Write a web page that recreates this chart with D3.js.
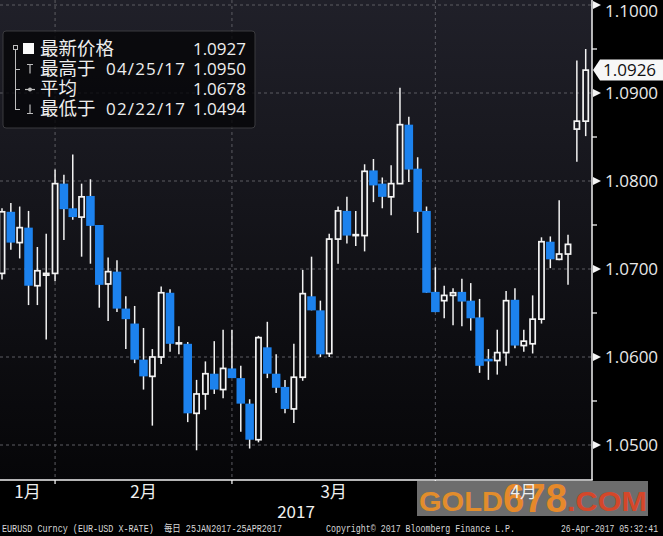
<!DOCTYPE html>
<html><head><meta charset="utf-8">
<script src="https://cdn.jsdelivr.net/npm/d3@7"></script>
<style>html,body{margin:0;padding:0;background:#000;overflow:hidden}svg{display:block}</style>
</head><body>
<svg id="c" width="663" height="536"></svg>
<script>
// ---- data ----
const dates = [
 "2017-01-23","2017-01-24","2017-01-25","2017-01-26","2017-01-27","2017-01-30","2017-01-31",
 "2017-02-01","2017-02-02","2017-02-03","2017-02-06","2017-02-07","2017-02-08","2017-02-09","2017-02-10",
 "2017-02-13","2017-02-14","2017-02-15","2017-02-16","2017-02-17","2017-02-20","2017-02-21","2017-02-22",
 "2017-02-23","2017-02-24","2017-02-27","2017-02-28",
 "2017-03-01","2017-03-02","2017-03-03","2017-03-06","2017-03-07","2017-03-08","2017-03-09","2017-03-10",
 "2017-03-13","2017-03-14","2017-03-15","2017-03-16","2017-03-17","2017-03-20","2017-03-21","2017-03-22",
 "2017-03-23","2017-03-24","2017-03-27","2017-03-28","2017-03-29","2017-03-30","2017-03-31",
 "2017-04-03","2017-04-04","2017-04-05","2017-04-06","2017-04-07","2017-04-10","2017-04-11","2017-04-12",
 "2017-04-13","2017-04-14","2017-04-17","2017-04-18","2017-04-19","2017-04-20","2017-04-21","2017-04-24","2017-04-25"];
const openP = [
 1.0695,1.0765,1.0730,1.0747,1.0681,1.0693,1.0695,
 1.0797,1.0769,1.0759,1.0783,1.0750,1.0683,1.0697,1.0655,
 1.0638,1.0597,1.0578,1.0600,1.0673,1.0615,1.0615,1.0536,
 1.0558,1.0581,1.0563,1.0587,
 1.0576,1.0547,1.0506,1.0611,1.0581,1.0566,1.0541,1.0577,
 1.0669,1.0653,1.0604,1.0734,1.0766,1.0738,1.0738,1.0812,
 1.0797,1.0782,1.0797,1.0864,1.0814,1.0766,1.0674,
 1.0664,1.0670,1.0674,1.0664,1.0645,1.0598,1.0596,1.0605,
 1.0665,1.0613,1.0615,1.0643,1.0731,1.0711,1.0717,1.0859,1.0868];
const highP = [
 1.0769,1.0775,1.0771,1.0766,1.0725,1.0740,1.0813,
 1.0807,1.0830,1.0797,1.0802,1.0750,1.0713,1.0710,1.0669,
 1.0658,1.0633,1.0609,1.0680,1.0677,1.0635,1.0617,1.0574,
 1.0595,1.0618,1.0631,1.0631,
 1.0590,1.0552,1.0624,1.0640,1.0603,1.0574,1.0615,1.0699,
 1.0714,1.0664,1.0740,1.0771,1.0782,1.0766,1.0819,1.0825,
 1.0804,1.0818,1.0906,1.0873,1.0827,1.0771,1.0702,
 1.0681,1.0678,1.0689,1.0684,1.0666,1.0609,1.0631,1.0675,
 1.0678,1.0631,1.0670,1.0736,1.0737,1.0778,1.0739,1.0937,1.0950];
const lowP = [
 1.0688,1.0722,1.0712,1.0659,1.0659,1.0620,1.0686,
 1.0733,1.0756,1.0714,1.0706,1.0656,1.0641,1.0651,1.0609,
 1.0593,1.0563,1.0522,1.0592,1.0606,1.0603,1.0526,1.0494,
 1.0540,1.0558,1.0553,1.0576,
 1.0515,1.0496,1.0503,1.0576,1.0559,1.0536,1.0525,1.0573,
 1.0653,1.0600,1.0600,1.0706,1.0729,1.0726,1.0720,1.0776,
 1.0769,1.0761,1.0797,1.0799,1.0741,1.0673,1.0651,
 1.0644,1.0636,1.0635,1.0630,1.0582,1.0574,1.0580,1.0590,
 1.0610,1.0606,1.0604,1.0638,1.0701,1.0710,1.0682,1.0822,1.0851];
const closeP = [
 1.0765,1.0730,1.0747,1.0681,1.0698,1.0695,1.0797,
 1.0768,1.0759,1.0782,1.0749,1.0682,1.0697,1.0655,1.0643,
 1.0597,1.0578,1.0600,1.0673,1.0615,1.0616,1.0536,1.0558,
 1.0581,1.0563,1.0587,1.0576,
 1.0547,1.0506,1.0622,1.0581,1.0565,1.0541,1.0577,1.0672,
 1.0653,1.0603,1.0734,1.0766,1.0738,1.0739,1.0811,1.0795,
 1.0782,1.0797,1.0864,1.0813,1.0765,1.0673,1.0651,
 1.0670,1.0673,1.0663,1.0644,1.0590,1.0595,1.0605,1.0664,
 1.0613,1.0618,1.0643,1.0731,1.0711,1.0717,1.0728,1.0868,1.0926];

const yTicks = [1.05, 1.06, 1.07, 1.08, 1.09, 1.10];
const monthLabels = ["1月", "2月", "3月", "4月"];
const yearLabel = "2017";
const legendLabels = ["最新价格", "最高于", "平均", "最低于"];
const legendDates = ["", "04/25/17", "", "02/22/17"];
const legendValues = [1.0927, 1.0950, 1.0678, 1.0494];
const lastPrice = 1.0926;
const footerLeft = "EURUSD Curncy (EUR-USD X-RATE)  每日 25JAN2017-25APR2017";
const footerMid = "Copyright© 2017 Bloomberg Finance L.P.";
const footerRight = "26-Apr-2017 05:32:41";

// ---- layout ----
const W = 663, H = 536;
const plotR = 592, plotB = 480;
const svg = d3.select("#c");
const fmt = d3.format(".4f");
const candles = dates.map((d, i) => ({d, o: openP[i], h: highP[i], l: lowP[i], c: closeP[i]}));

const x = d3.scalePoint().domain(dates).range([2, 585.7]);
const step = x.step();
const y = d3.scaleLinear().domain([1.05, 1.10]).range([445, 5]);

const defs = svg.append("defs");
const grad = defs.append("linearGradient").attr("id", "bg")
  .attr("gradientUnits", "userSpaceOnUse").attr("x1", 0).attr("y1", 0).attr("x2", 0).attr("y2", plotB);
grad.append("stop").attr("offset", "0%").attr("stop-color", "#202029");
grad.append("stop").attr("offset", "100%").attr("stop-color", "#060608");
defs.append("clipPath").attr("id", "plotclip").append("rect")
  .attr("x", 0).attr("y", 0).attr("width", plotR).attr("height", plotB);

svg.append("rect").attr("width", W).attr("height", H).attr("fill", "#000");
svg.append("rect").attr("x", 0).attr("y", 0).attr("width", plotR).attr("height", plotB).attr("fill", "url(#bg)");

const plot = svg.append("g").attr("clip-path", "url(#plotclip)");

// month ends (last trading day of each month)
const monthOf = d => +d.slice(5, 7);
const monthEnds = [];
dates.forEach((d, i) => {
  if (i < dates.length - 1 && monthOf(dates[i + 1]) !== monthOf(d)) monthEnds.push(d);
});

// gridlines
plot.selectAll(".hg").data(yTicks).join("line")
  .attr("x1", 0).attr("x2", plotR).attr("y1", d => y(d)).attr("y2", d => y(d))
  .attr("stroke", "#5c5c62").attr("stroke-width", 1).attr("stroke-dasharray", "3,3");
plot.selectAll(".vg").data(monthEnds).join("line")
  .attr("x1", d => x(d)).attr("x2", d => x(d)).attr("y1", 0).attr("y2", plotB)
  .attr("stroke", "#5c5c62").attr("stroke-width", 1).attr("stroke-dasharray", "3,3");

// wicks
plot.selectAll(".wick").data(candles).join("line")
  .attr("x1", d => x(d.d)).attr("x2", d => x(d.d))
  .attr("y1", d => y(d.h)).attr("y2", d => y(d.l))
  .attr("stroke", "#f2f2f2").attr("stroke-width", 1.5);

// down bodies
plot.selectAll(".down").data(candles.filter(d => d.c < d.o)).join("rect")
  .attr("x", d => x(d.d) - step / 2 + 0.15).attr("width", step - 0.3)
  .attr("y", d => y(d.o)).attr("height", d => Math.max(1.5, y(d.c) - y(d.o)))
  .attr("fill", "#1c82ee");
// up bodies (hollow)
plot.selectAll(".up").data(candles.filter(d => d.c >= d.o)).join("rect")
  .attr("x", d => x(d.d) - 2.6).attr("width", 5.2)
  .attr("y", d => y(d.c)).attr("height", d => Math.max(0.8, y(d.o) - y(d.c)))
  .attr("fill", "url(#bg)").attr("stroke", "#f4f4f4").attr("stroke-width", 1.7);

// right axis
svg.append("line").attr("x1", plotR).attr("x2", plotR).attr("y1", 0).attr("y2", plotB)
  .attr("stroke", "#f0f0f0").attr("stroke-width", 1.5);
const minor = yTicks.slice(0, -1).map((t, i) => (t + yTicks[i + 1]) / 2);
svg.selectAll(".mt").data(minor).join("line")
  .attr("x1", plotR).attr("x2", plotR + 5).attr("y1", d => y(d)).attr("y2", d => y(d))
  .attr("stroke", "#f0f0f0").attr("stroke-width", 1.3);
svg.selectAll(".tri").data(yTicks).join("path")
  .attr("d", d => `M${plotR + 1},${y(d) - 4}L${plotR + 9},${y(d)}L${plotR + 1},${y(d) + 4}Z`)
  .attr("fill", "#f4f4f4");
svg.selectAll(".yl").data(yTicks).join("text")
  .attr("x", 605).attr("y", d => Math.max(y(d), 11)).attr("dy", "0.36em")
  .attr("fill", "#e8e8e8").attr("font-family", "'Open Sans', sans-serif").attr("font-size", 17)
  .text(d => fmt(d));

// last price marker
const yl = y(lastPrice);
svg.append("path")
  .attr("d", `M${plotR + 1},${yl}L${plotR + 8},${yl - 10.5}L${W},${yl - 10.5}L${W},${yl + 10.5}L${plotR + 8},${yl + 10.5}Z`)
  .attr("fill", "#f7f7f7");
svg.append("text").attr("x", 603).attr("y", yl).attr("dy", "0.36em")
  .attr("fill", "#111").attr("font-family", "'Open Sans', sans-serif").attr("font-size", 17)
  .text(fmt(lastPrice));

// bottom axis
svg.append("line").attr("x1", 0).attr("x2", plotR + 0.75).attr("y1", plotB).attr("y2", plotB)
  .attr("stroke", "#f0f0f0").attr("stroke-width", 1.5);
svg.selectAll(".xt").data(monthEnds).join("line")
  .attr("x1", d => x(d)).attr("x2", d => x(d)).attr("y1", plotB).attr("y2", plotB + 4)
  .attr("stroke", "#f0f0f0").attr("stroke-width", 1.3);

// watermark (GOLD678.COM)
const wm = svg.append("g");
wm.append("rect").attr("x", 417).attr("y", 481).attr("width", 231).attr("height", 35).attr("fill", "#6d6d6d");
wm.append("text").attr("x", 419).attr("y", 511).attr("font-family", "'Liberation Sans', sans-serif").attr("font-weight", "bold")
  .attr("font-size", 28).attr("fill", "#e28d2c").attr("textLength", 84).attr("lengthAdjust", "spacingAndGlyphs").text("GOLD");
wm.append("text").attr("x", 503).attr("y", 512).attr("font-family", "'Liberation Sans', sans-serif").attr("font-weight", "bold")
  .attr("font-size", 40).attr("fill", "#e6892a").attr("textLength", 64).attr("lengthAdjust", "spacingAndGlyphs").text("678");
wm.append("text").attr("x", 567).attr("y", 511).attr("font-family", "'Liberation Sans', sans-serif").attr("font-weight", "bold")
  .attr("font-size", 28).attr("fill", "#d4472a").attr("textLength", 80).attr("lengthAdjust", "spacingAndGlyphs").text(".COM");

// month labels
const bounds = [0, ...monthEnds.map(d => x(d)), x(dates[dates.length - 1]) + 3 * step];
svg.selectAll(".ml").data(monthLabels).join("text")
  .attr("x", (d, i) => (bounds[i] + bounds[i + 1]) / 2).attr("y", 498)
  .attr("text-anchor", "middle").attr("fill", "#f0f0f0")
  .attr("font-family", "'Noto Sans CJK SC', sans-serif").attr("font-size", 17).text(d => d);
svg.append("text").attr("x", plotR / 2).attr("y", 518).attr("text-anchor", "middle")
  .attr("fill", "#f0f0f0").attr("font-family", "'Noto Sans CJK SC', sans-serif").attr("font-size", 17).text(yearLabel);

// footer
const ff = "'Liberation Mono', 'Noto Sans CJK SC', monospace";
svg.append("text").attr("x", 2).attr("y", 532).attr("font-family", ff).attr("font-size", 10).attr("fill", "#d8d8d8")
  .attr("textLength", 280).attr("lengthAdjust", "spacingAndGlyphs").attr("xml:space", "preserve").text(footerLeft);
svg.append("text").attr("x", 326).attr("y", 532).attr("font-family", ff).attr("font-size", 10).attr("fill", "#d8d8d8")
  .attr("textLength", 189).attr("lengthAdjust", "spacingAndGlyphs").text(footerMid);
svg.append("text").attr("x", 561).attr("y", 532).attr("font-family", ff).attr("font-size", 10).attr("fill", "#d8d8d8")
  .attr("textLength", 97).attr("lengthAdjust", "spacingAndGlyphs").text(footerRight);

// legend
const lg = svg.append("g");
lg.append("rect").attr("x", 3).attr("y", 31).attr("width", 252).attr("height", 97).attr("rx", 3)
  .attr("fill", "rgba(6,6,8,0.82)").attr("stroke", "#3a3a3e").attr("stroke-width", 1);
const rowY = [55, 75, 95, 115];
const rowMid = rowY.map(v => v - 6);
const tc = "#bdbdbd";
lg.append("rect").attr("x", 13.5).attr("y", 45.5).attr("width", 4).attr("height", 4).attr("fill", "none").attr("stroke", tc).attr("stroke-width", 1);
lg.append("line").attr("x1", 15.5).attr("x2", 15.5).attr("y1", 50).attr("y2", rowMid[3] + 1).attr("stroke", tc).attr("stroke-width", 1);
lg.selectAll(".br").data(rowMid.slice(1)).join("line")
  .attr("x1", 15.5).attr("x2", 20).attr("y1", d => d + 0.5).attr("y2", d => d + 0.5).attr("stroke", tc).attr("stroke-width", 1);
lg.append("rect").attr("x", 23).attr("y", 43).attr("width", 11).attr("height", 11).attr("fill", "#fafafa");
// high icon
lg.append("path").attr("d", `M27,${rowMid[1] - 4.5}H33M30,${rowMid[1] - 4.5}V${rowMid[1] + 4.5}`).attr("stroke", tc).attr("stroke-width", 1.2).attr("fill", "none");
// avg icon
lg.append("path").attr("d", `M25,${rowMid[2] + 0.5}H35`).attr("stroke", tc).attr("stroke-width", 1.2);
lg.append("circle").attr("cx", 30).attr("cy", rowMid[2] + 0.5).attr("r", 2).attr("fill", tc);
// low icon
lg.append("path").attr("d", `M30,${rowMid[3] - 4.5}V${rowMid[3] + 4.5}M27,${rowMid[3] + 4.5}H33`).attr("stroke", tc).attr("stroke-width", 1.2).attr("fill", "none");

const rows = legendLabels.map((label, i) => ({label, date: legendDates[i], value: legendValues[i], yb: rowY[i]}));
lg.selectAll(".ll").data(rows).join("text")
  .attr("x", 40).attr("y", d => d.yb).attr("fill", "#eeeeee")
  .attr("font-family", "'Noto Sans CJK SC', sans-serif").attr("font-size", 18.5).text(d => d.label);
lg.selectAll(".ld").data(rows.filter(d => d.date)).join("text")
  .attr("x", 106).attr("y", d => d.yb).attr("fill", "#eeeeee")
  .attr("font-family", "'Open Sans', sans-serif").attr("font-size", 17)
  .attr("textLength", 79).attr("lengthAdjust", "spacing").text(d => d.date);
lg.selectAll(".lv").data(rows).join("text")
  .attr("x", 246).attr("y", d => d.yb).attr("text-anchor", "end").attr("fill", "#eeeeee")
  .attr("font-family", "'Open Sans', sans-serif").attr("font-size", 17).text(d => fmt(d.value));
</script>
</body></html>
